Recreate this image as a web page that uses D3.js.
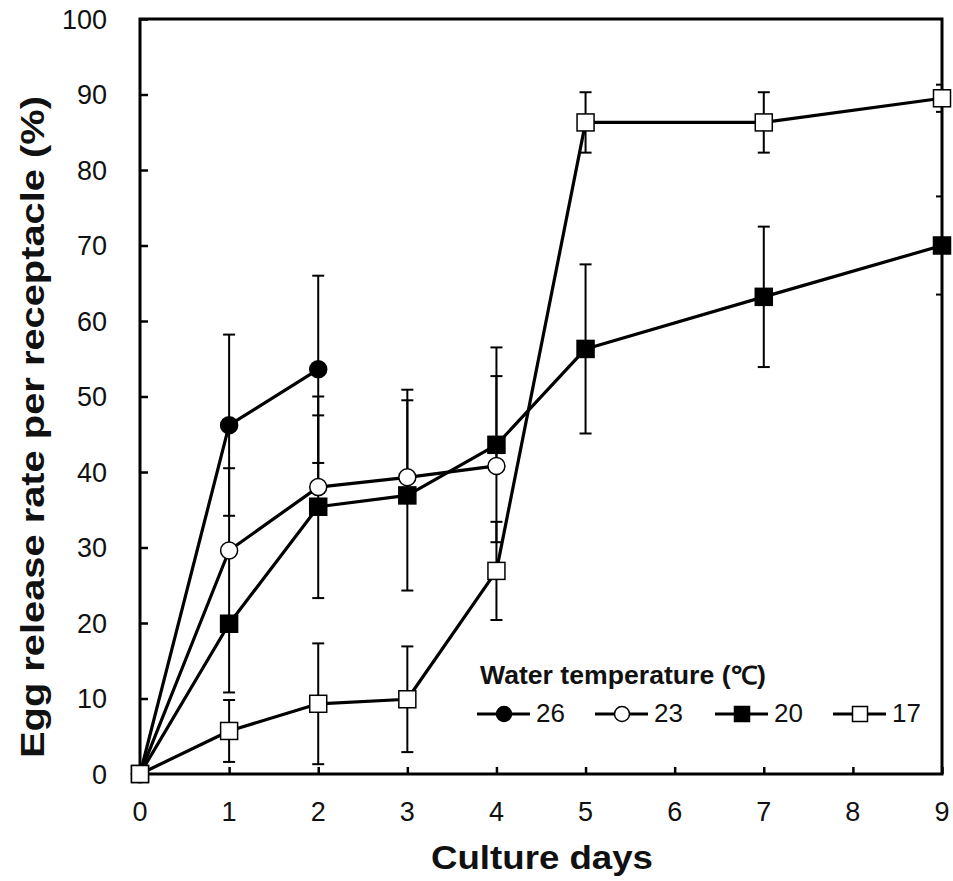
<!DOCTYPE html>
<html>
<head>
<meta charset="utf-8">
<script src="https://cdn.jsdelivr.net/npm/d3@7"></script>
<style>
  html, body { margin: 0; padding: 0; background: #fff; }
  svg { display: block; font-family: "Liberation Sans", Arial, sans-serif; }
</style>
</head>
<body>
<svg id="chart" width="953" height="881"></svg>
<script>
// ---- data ----
const xTicks = [0, 1, 2, 3, 4, 5, 6, 7, 8, 9];
const yTicks = [0, 10, 20, 30, 40, 50, 60, 70, 80, 90, 100];

const days26 = [0, 1, 2];
const vals26 = [0, 46.2, 53.6];
const errUp26 = [0, 12.0, 12.4];
const errDn26 = [0, 12.0, 12.4];

const days23 = [0, 1, 2, 3, 4];
const vals23 = [0, 29.6, 38.0, 39.3, 40.8];
const errUp23 = [0, 10.9, 12.0, 11.6, 11.9];
const errDn23 = [0, 0, 0, 0, 0];

const days20 = [0, 1, 2, 3, 4, 5, 7, 9];
const vals20 = [0, 19.9, 35.4, 36.9, 43.6, 56.3, 63.2, 70.0];
const errUp20 = [0, 9.1, 12.1, 12.6, 12.9, 11.2, 9.3, 6.5];
const errDn20 = [0, 9.1, 12.1, 12.6, 12.9, 11.2, 9.3, 6.5];

const days17 = [0, 1, 2, 3, 4, 5, 7, 9];
const vals17 = [0, 5.7, 9.3, 9.9, 26.9, 86.3, 86.3, 89.5];
const errUp17 = [0, 4.1, 8.0, 7.0, 6.5, 4.0, 4.0, 1.8];
const errDn17 = [0, 4.1, 8.0, 7.0, 6.5, 4.0, 4.0, 1.8];

const seriesNames = ["26", "23", "20", "17"];
const legendTitle = "Water temperature (\u2103)";
const xTitle = "Culture days";
const yTitle = "Egg release rate per receptacle (%)";

// ---- build ----
const series = [
  { name: "26", days: days26, vals: vals26, up: errUp26, dn: errDn26, shape: "circle", fill: "#000" },
  { name: "23", days: days23, vals: vals23, up: errUp23, dn: errDn23, shape: "circle", fill: "#fff" },
  { name: "20", days: days20, vals: vals20, up: errUp20, dn: errDn20, shape: "square", fill: "#000" },
  { name: "17", days: days17, vals: vals17, up: errUp17, dn: errDn17, shape: "square", fill: "#fff" }
];

const svg = d3.select("#chart");
const L = 140, R = 942, T = 19, B = 774;
const x = d3.scaleLinear().domain([0, 9]).range([L, R]);
const y = d3.scaleLinear().domain([0, 100]).range([B, T]);

svg.append("defs").append("clipPath").attr("id", "plotclip")
  .append("rect").attr("x", L).attr("y", T).attr("width", R - L).attr("height", B - T);

// axes (inward ticks)
const yAxis = svg.append("g").attr("transform", `translate(${L},0)`)
  .call(d3.axisRight(y).tickValues(yTicks).tickSize(8).tickFormat(""));
yAxis.select(".domain").remove();
yAxis.selectAll("line").attr("stroke", "#000").attr("stroke-width", 2.5);

const xAxis = svg.append("g").attr("transform", `translate(0,${B})`)
  .call(d3.axisTop(x).tickValues(xTicks).tickSize(7).tickFormat(""));
xAxis.select(".domain").remove();
xAxis.selectAll("line").attr("stroke", "#000").attr("stroke-width", 2.5);

// tick labels
svg.append("g").selectAll("text").data(yTicks).join("text")
  .attr("x", 107).attr("y", d => y(d) + 9.5)
  .attr("text-anchor", "end").attr("font-size", 27).attr("fill", "#111")
  .text(d => d);
svg.append("g").selectAll("text").data(xTicks).join("text")
  .attr("x", d => x(d)).attr("y", 821)
  .attr("text-anchor", "middle").attr("font-size", 27).attr("fill", "#111")
  .text(d => d);

// frame
svg.append("rect").attr("x", L).attr("y", T).attr("width", R - L).attr("height", B - T)
  .attr("fill", "none").attr("stroke", "#000").attr("stroke-width", 3);

// error bars
const eb = svg.append("g").attr("clip-path", "url(#plotclip)");
series.forEach(s => {
  s.days.forEach((d, i) => {
    const v = s.vals[i], u = s.up[i], dn = s.dn[i];
    const cx = x(d);
    if (u > 0) {
      eb.append("line").attr("x1", cx).attr("x2", cx).attr("y1", y(v)).attr("y2", y(v + u))
        .attr("stroke", "#000").attr("stroke-width", 2);
      eb.append("line").attr("x1", cx - 6).attr("x2", cx + 6).attr("y1", y(v + u)).attr("y2", y(v + u))
        .attr("stroke", "#000").attr("stroke-width", 2);
    }
    if (dn > 0) {
      eb.append("line").attr("x1", cx).attr("x2", cx).attr("y1", y(v)).attr("y2", y(v - dn))
        .attr("stroke", "#000").attr("stroke-width", 2);
      eb.append("line").attr("x1", cx - 6).attr("x2", cx + 6).attr("y1", y(v - dn)).attr("y2", y(v - dn))
        .attr("stroke", "#000").attr("stroke-width", 2);
    }
  });
});

// lines
const line = d3.line().x(d => x(d[0])).y(d => y(d[1]));
series.forEach(s => {
  svg.append("path").datum(s.days.map((d, i) => [d, s.vals[i]]))
    .attr("d", line).attr("fill", "none").attr("stroke", "#000").attr("stroke-width", 3.2)
    .attr("stroke-linejoin", "round");
});

function drawMarker(g, shape, fill, cx, cy, size) {
  if (shape === "circle") {
    g.append("circle").attr("cx", cx).attr("cy", cy).attr("r", size / 2)
      .attr("fill", fill).attr("stroke", "#000").attr("stroke-width", 1.5);
  } else {
    g.append("rect").attr("x", cx - size / 2).attr("y", cy - size / 2)
      .attr("width", size).attr("height", size)
      .attr("fill", fill).attr("stroke", "#000").attr("stroke-width", 1.5);
  }
}

// markers
series.forEach(s => {
  const g = svg.append("g");
  s.days.forEach((d, i) => drawMarker(g, s.shape, s.fill, x(d), y(s.vals[i]), 17));
});

// legend
svg.append("text").attr("x", 480).attr("y", 684).attr("font-size", 25).attr("font-weight", "bold")
  .attr("fill", "#111").attr("textLength", 286).attr("lengthAdjust", "spacingAndGlyphs")
  .text(legendTitle);
const legX = [477, 595, 715, 833];
series.forEach((s, i) => {
  const g = svg.append("g");
  const lx = legX[i];
  g.append("line").attr("x1", lx).attr("x2", lx + 53).attr("y1", 714).attr("y2", 714)
    .attr("stroke", "#000").attr("stroke-width", 3);
  drawMarker(g, s.shape, s.fill, lx + 27, 714, 15);
  g.append("text").attr("x", lx + 59).attr("y", 722).attr("font-size", 26).attr("fill", "#111")
    .text(seriesNames[i]);
});

// axis titles
svg.append("text").attr("x", 542).attr("y", 869).attr("text-anchor", "middle")
  .attr("font-size", 34).attr("font-weight", "bold").attr("fill", "#111")
  .attr("textLength", 222).attr("lengthAdjust", "spacingAndGlyphs")
  .text(xTitle);
svg.append("text").attr("transform", "translate(44,427) rotate(-90)")
  .attr("text-anchor", "middle")
  .attr("font-size", 34).attr("font-weight", "bold").attr("fill", "#111")
  .attr("textLength", 662).attr("lengthAdjust", "spacingAndGlyphs")
  .text(yTitle);
</script>
</body>
</html>
